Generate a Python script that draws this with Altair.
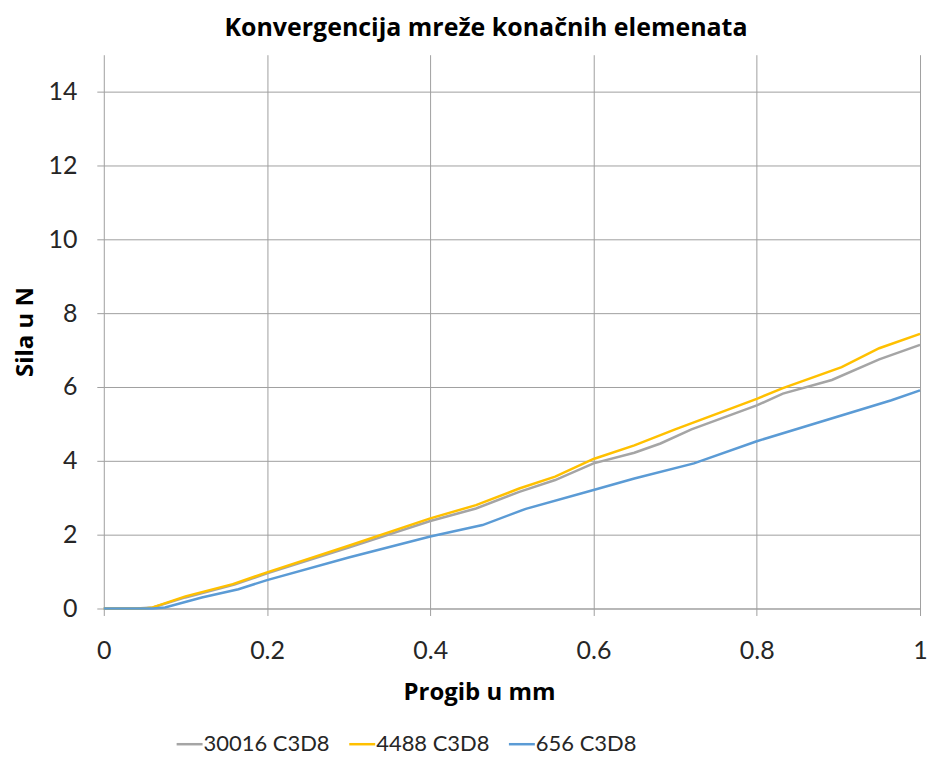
import altair as alt
import pandas as pd

# 30016 C3D8 (gray)
x_30016 = [0, 0.04, 0.06, 0.10, 0.16, 0.20, 0.30, 0.40, 0.456, 0.509, 0.553, 0.60, 0.65, 0.682, 0.72, 0.80, 0.832, 0.892, 0.95, 1.0]
y_30016 = [0, 0, 0.03, 0.30, 0.65, 0.95, 1.65, 2.37, 2.71, 3.16, 3.48, 3.93, 4.22, 4.47, 4.85, 5.50, 5.82, 6.19, 6.75, 7.14]

# 4488 C3D8 (yellow)
x_4488 = [0, 0.05, 0.06, 0.10, 0.158, 0.20, 0.30, 0.40, 0.456, 0.509, 0.553, 0.60, 0.65, 0.70, 0.80, 0.832, 0.904, 0.95, 1.0]
y_4488 = [0, 0, 0.03, 0.33, 0.66, 0.98, 1.70, 2.44, 2.80, 3.25, 3.57, 4.05, 4.42, 4.85, 5.68, 5.97, 6.54, 7.05, 7.44]

# 656 C3D8 (blue)
x_656 = [0, 0.06, 0.075, 0.12, 0.165, 0.20, 0.30, 0.40, 0.464, 0.517, 0.60, 0.65, 0.723, 0.80, 0.965, 1.0]
y_656 = [0, 0, 0.03, 0.30, 0.52, 0.77, 1.38, 1.95, 2.26, 2.70, 3.21, 3.52, 3.93, 4.53, 5.64, 5.91]

series = ["30016 C3D8", "4488 C3D8", "656 C3D8"]
colors = ["#A5A5A5", "#FFC000", "#5B9BD5"]

rows = []
for name, xs, ys in [(series[0], x_30016, y_30016), (series[1], x_4488, y_4488), (series[2], x_656, y_656)]:
    for i, (a, b) in enumerate(zip(xs, ys)):
        rows.append({"series": name, "x": a, "y": b, "order": i})
df = pd.DataFrame(rows)

LFONT = "Lato"
TFONT = "Open Sans"

chart = alt.Chart(df).mark_line(strokeWidth=2.5).encode(
    x=alt.X("x:Q",
            scale=alt.Scale(domain=[0, 1], nice=False),
            axis=alt.Axis(title="Progib u mm", values=[0, 0.2, 0.4, 0.6, 0.8, 1.0], format="~g",
                          grid=True, gridColor="#A0A0A0", gridWidth=1,
                          domain=True, domainColor="#A0A0A0", domainWidth=1,
                          ticks=True, tickColor="#A0A0A0", tickSize=7,
                          labelFont=LFONT, labelFontSize=25, labelColor="#262626",
                          labelPadding=23, labelFlush=False,
                          titleFont=TFONT, titleFontSize=24, titleFontWeight="bold",
                          titleColor="#000000", titleX=376, titleY=72)),
    y=alt.Y("y:Q",
            scale=alt.Scale(domain=[0, 15], nice=False),
            axis=alt.Axis(title="Sila u N", values=[0, 2, 4, 6, 8, 10, 12, 14],
                          grid=True, gridColor="#A0A0A0", gridWidth=1,
                          domain=False,
                          ticks=True, tickColor="#A0A0A0", tickSize=7,
                          labelFont=LFONT, labelFontSize=25, labelColor="#262626",
                          labelPadding=20,
                          titleFont=TFONT, titleFontSize=24, titleFontWeight="bold",
                          titleColor="#000000", titlePadding=10)),
    color=alt.Color("series:N",
                    scale=alt.Scale(domain=series, range=colors),
                    legend=alt.Legend(title=None, orient="none", direction="horizontal",
                                      legendX=75, legendY=680, padding=0,
                                      symbolType="M-2,0H2", symbolSize=169, symbolStrokeWidth=2.5,
                                      labelFont=LFONT, labelFontSize=22, labelColor="#262626",
                                      labelOffset=3, columnPadding=14)),
    order="order:Q",
).properties(
    width=818,
    height=555,
    padding={"left": 5, "top": 7, "right": 0, "bottom": 0},
    title=alt.TitleParams("Konvergencija mreže konačnih elemenata", font=TFONT, fontSize=25,
                          fontWeight="bold", color="#000000", anchor="middle", dx=-26, offset=14),
).configure_view(strokeWidth=0)

chart.save("out.html", embed_options={"renderer": "svg", "actions": False})
